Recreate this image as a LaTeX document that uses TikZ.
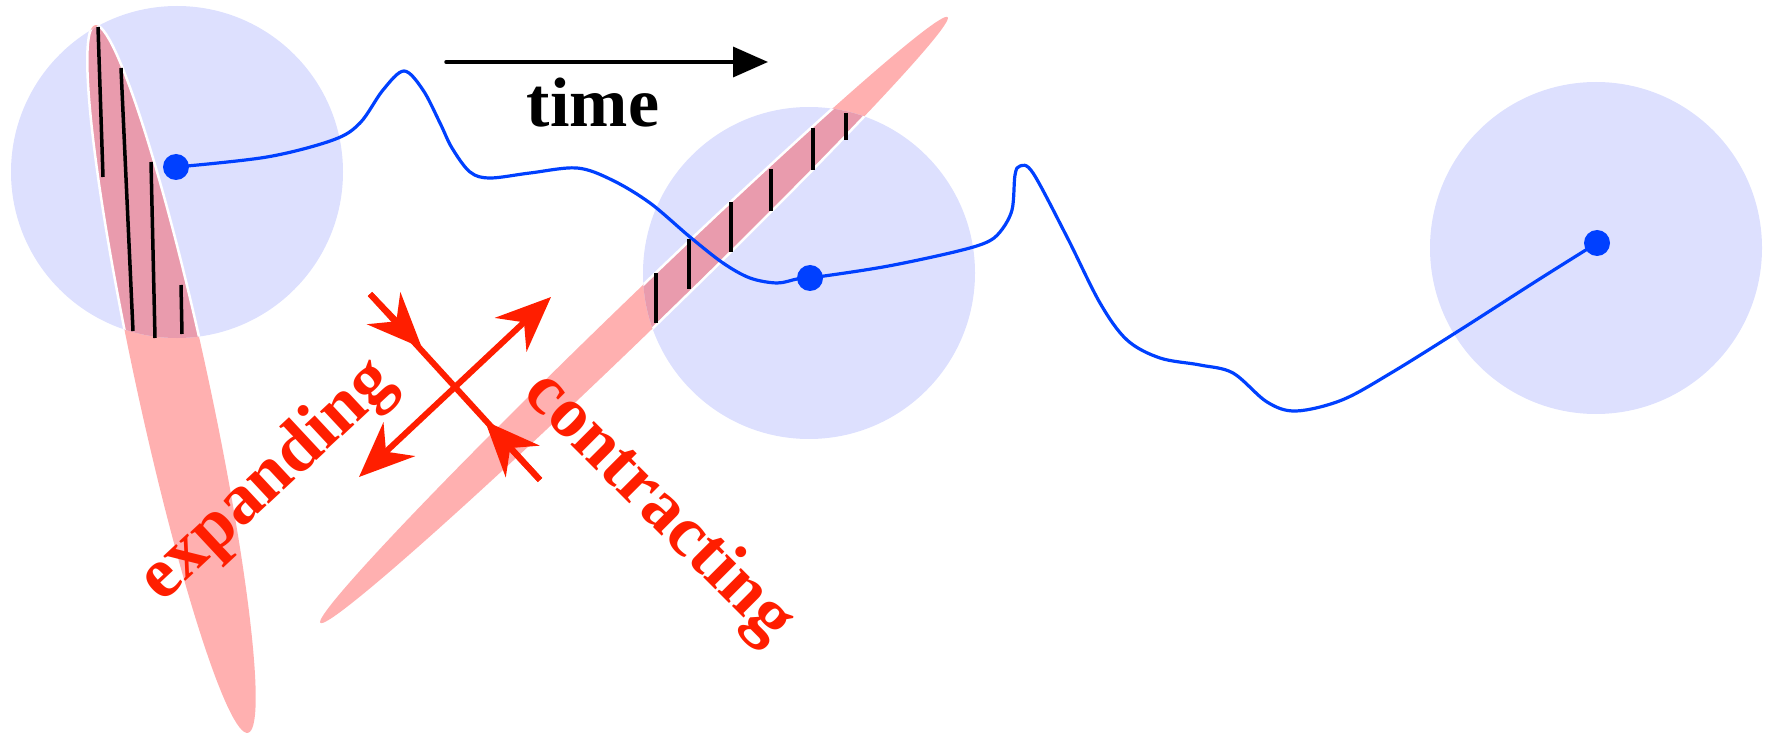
\documentclass[tikz,border=0pt]{standalone}
\usepackage{fontspec}
\setmainfont{Liberation Serif}
\usetikzlibrary{arrows.meta}
\definecolor{lav}{RGB}{221,224,254}
\definecolor{pinkE}{RGB}{255,176,176}
\definecolor{overlapC}{RGB}{233,155,173}
\definecolor{traj}{RGB}{0,64,255}
\definecolor{redA}{RGB}{255,30,0}
\begin{document}
\begin{tikzpicture}[x=1pt,y=-1pt,
  cloud/.style={fill=lav},
  band/.style={fill=pinkE},
  bandin/.style={fill=overlapC, draw=white, line width=2.5pt},
  tick/.style={draw=black, line width=3.5pt},
  dot/.style={circle, fill=traj, inner sep=0pt, minimum size=26pt},
  trajline/.style={draw=traj, line width=3.2pt, line join=round},
  redarrow/.style={draw=redA, line width=6pt},
  redhead/.style={-{Stealth[length=55pt,width=46pt,inset=18pt]}},
  lbl/.style={text=redA, font=\fontsize{72}{80}\selectfont\bfseries, inner sep=0pt}
]
\useasboundingbox (0,0) rectangle (1767,735);
% pink bands
\fill[band, rotate around={-77.8:(171.5,379)}] (171.5,379) ellipse [x radius=362, y radius=36];
\fill[band, rotate around={44:(634,320)}] (634,320) ellipse [x radius=436, y radius=19];
% lavender clouds
\fill[cloud] (177,172) circle [radius=166];
\fill[cloud] (809,273) circle [radius=166];
\fill[cloud] (1596,248) circle [radius=166];
% overlaps
\begin{scope}
\clip (177,172) circle [radius=166];
\filldraw[bandin, rotate around={-77.8:(171.5,379)}] (171.5,379) ellipse [x radius=362, y radius=36];
\end{scope}
\begin{scope}
\clip (809,273) circle [radius=166];
\filldraw[bandin, rotate around={44:(634,320)}] (634,320) ellipse [x radius=436, y radius=19];
\end{scope}
% ticks
\draw[tick] (98,27) -- (103,177);
\draw[tick] (121,68) -- (133,331);
\draw[tick] (151,162) -- (155,338);
\draw[tick] (181,285) -- (182,334);
\draw[tick] (656,273) -- (656,323);
\draw[tick] (689,239) -- (689,289);
\draw[tick] (731,202) -- (731,252);
\draw[tick] (771,169) -- (771,211);
\draw[tick] (813,128) -- (813,170);
\draw[tick] (846,113) -- (846,140);
% trajectory
\node[dot] (d1) at (176,167) {};
\node[dot] (d2) at (810,278) {};
\node[dot] (d3) at (1597,243) {};
\draw[trajline] plot[smooth, tension=0.55] coordinates {(d1.center) (267,157) (333,140) (360,123) (383,90) (404,71) (423,90) (440,123) (452,148) (470,172) (490,178) (530,173) (577,168) (612,180) (650,203) (690,237) (723,263) (750,278) (777,283) (797,279) (d2.center) (883,267) (950,253) (985,243) (1000,232) (1012,210) (1015,175) (1020,166) (1033,173) (1067,237) (1100,303) (1127,340) (1160,358) (1200,365) (1233,373) (1267,402) (1296,411) (1342,400) (1391,373) (1460,330) (1538,280) (d3.center)};
% time arrow
\coordinate (t0) at (446,62);
\coordinate (t1) at (768,62);
\draw[line width=3.5pt, line cap=round, -{Triangle[length=35pt,width=30pt]}] (t0) -- (t1);
\node[font=\fontsize{70}{80}\selectfont\bfseries, anchor=base, inner sep=0pt] (time) at (593,127) {time};
% red arrows
\coordinate (eA) at (359,477);
\coordinate (eB) at (551,297);
\draw[redarrow, {Stealth[length=55pt,width=46pt,inset=18pt]}-{Stealth[length=55pt,width=46pt,inset=18pt]}] (eA) -- (eB);
\coordinate (cA) at (370,294);
\coordinate (cB) at (540,480);
\coordinate (cAt) at (422,348);
\coordinate (cBt) at (485,421);
\draw[redarrow] (cA) -- (cB);
\draw[redarrow, redhead] (cA) -- (cAt);
\draw[redarrow, redhead] (cB) -- (cBt);
% labels
\node[lbl, rotate=43] (exp) at (268,482) {expanding};
\node[lbl, rotate=-45] (con) at (658,508) {contracting};
\end{tikzpicture}
\end{document}
